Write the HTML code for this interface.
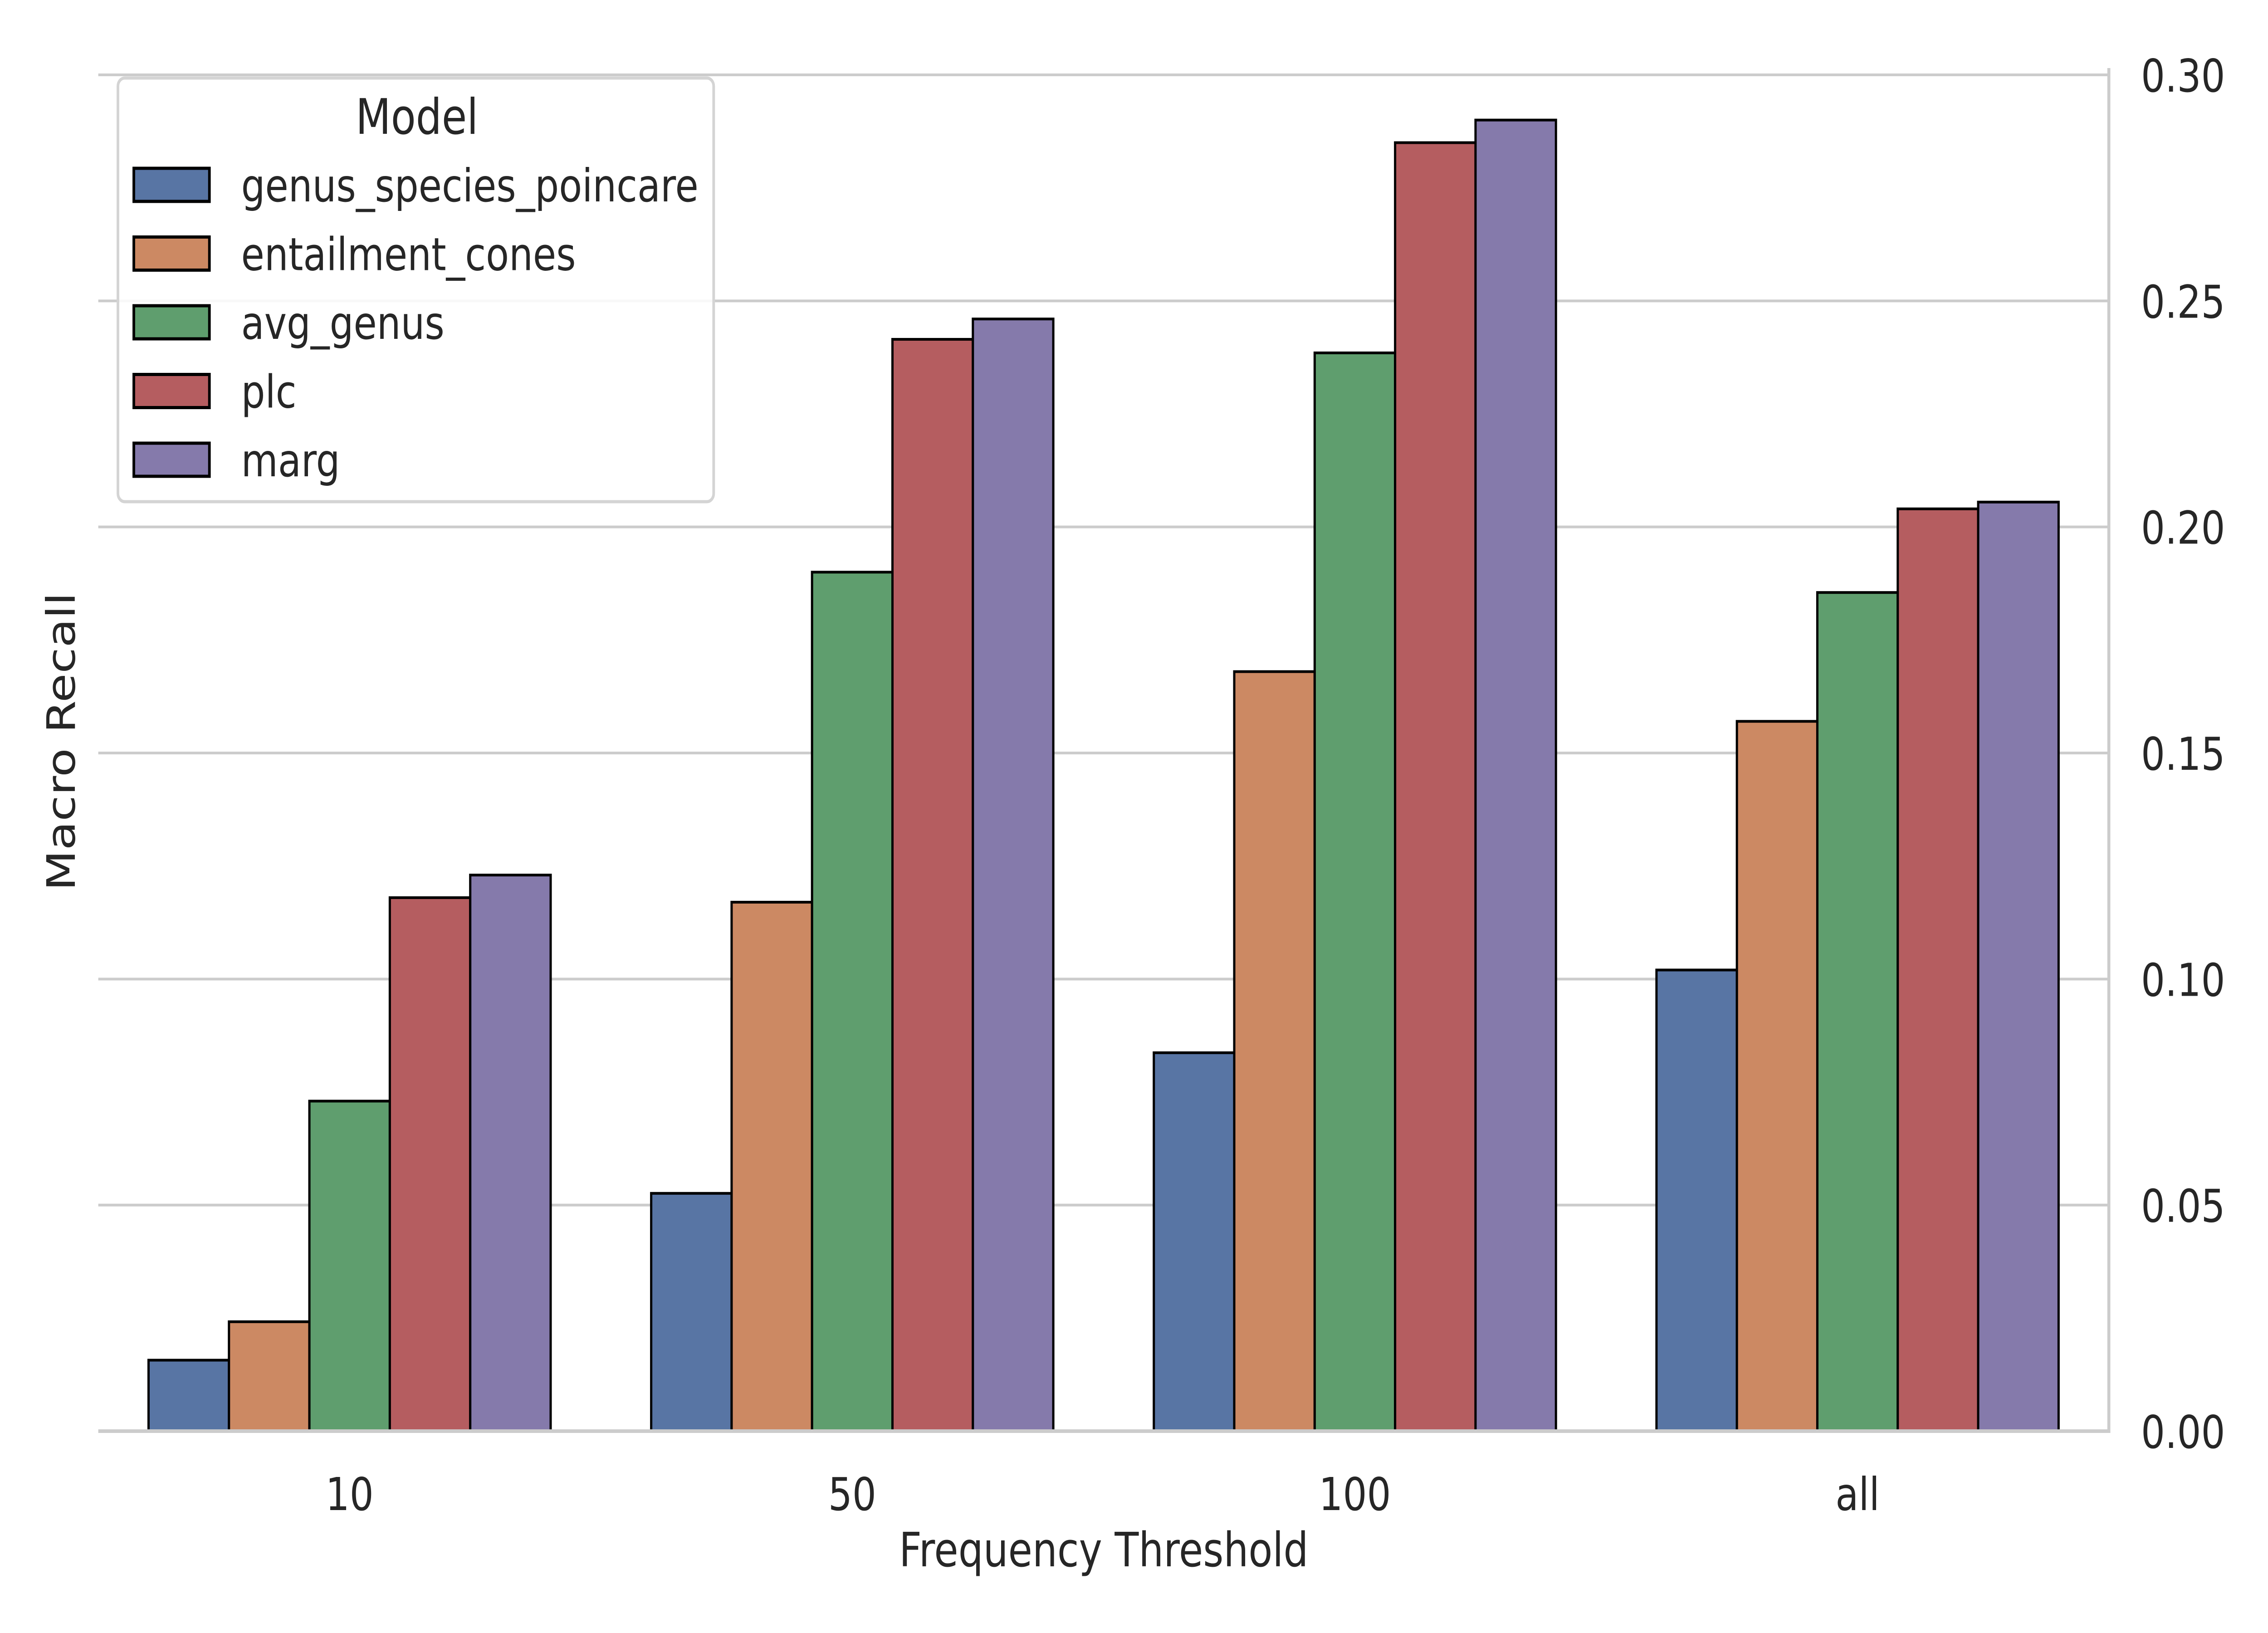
<!DOCTYPE html>
<html><head><meta charset="utf-8"><style>
html,body{margin:0;padding:0;background:#fff;width:100%;height:100%;overflow:hidden;}
#chart{display:block;width:100%;height:100%;}
svg text{font-family:"DejaVu Sans","Liberation Sans",sans-serif;fill:#262626;}
</style></head><body>
<svg id="chart" viewBox="0 0 6000 3600" preserveAspectRatio="none" xmlns="http://www.w3.org/2000/svg">
<g id="grid"></g>
<g id="bars"></g>
<line x1="260" y1="3155" x2="5583" y2="3155" stroke="#cccccc" stroke-width="8"/>
<line x1="5579" y1="150" x2="5579" y2="3159" stroke="#cccccc" stroke-width="8"/>
<g id="yticks"></g>
<g id="xticks"></g>
<text x="2920" y="3453" font-size="104" text-anchor="middle">Frequency Threshold</text>
<text transform="translate(198,1635) rotate(-90)" font-size="104" text-anchor="middle">Macro Recall</text>
<g id="legend">
<rect x="312" y="172" width="1576" height="934" rx="18" fill="#fff" fill-opacity="0.85" stroke="#d4d4d4" stroke-width="7"/>
<text x="1103" y="295" font-size="108" text-anchor="middle">Model</text>
</g>
</svg>
<script>
const categories = ["10", "50", "100", "all"];
const models = ["genus_species_poincare", "entailment_cones", "avg_genus", "plc", "marg"];
const colors = ["#5875a4", "#cc8963", "#5f9e6e", "#b55d60", "#857aab"];
const genusSpeciesPoincare = [0.0157, 0.0526, 0.0837, 0.102];
const entailmentCones = [0.0242, 0.117, 0.168, 0.157];
const avgGenus = [0.073, 0.190, 0.2385, 0.1855];
const plc = [0.118, 0.2415, 0.285, 0.204];
const marg = [0.123, 0.246, 0.290, 0.2055];
const yTicks = [0, 0.05, 0.10, 0.15, 0.20, 0.25, 0.30];
const yTickLabels = ["0.00", "0.05", "0.10", "0.15", "0.20", "0.25", "0.30"];

const series = [genusSpeciesPoincare, entailmentCones, avgGenus, plc, marg];
const NS = "http://www.w3.org/2000/svg";
const X0 = 260, X1 = 5579, Y0 = 3155, Y30 = 165;
const groupW = (X1 - X0) / categories.length;
const barW = groupW * 0.8 / models.length;
function yScale(v) { return Y0 - (v / 0.30) * (Y0 - Y30); }
function xCenter(i) { return X0 + groupW * (i + 0.5); }
function mk(tag, attrs, parent) {
  const e = document.createElementNS(NS, tag);
  for (const k in attrs) e.setAttribute(k, attrs[k]);
  parent.appendChild(e);
  return e;
}
const grid = document.getElementById("grid");
const yt = document.getElementById("yticks");
yTicks.forEach((t, i) => {
  if (t > 0) {
    const l = mk("line", {x1: X0, x2: X1, y1: yScale(t), y2: yScale(t), stroke: "#cccccc", "stroke-width": 6}, grid);
    
    
  }
  const tx = mk("text", {x: 5664, y: yScale(t) + 37, "font-size": 100}, yt);
  tx.textContent = yTickLabels[i];
  
  
});
const xt = document.getElementById("xticks");
categories.forEach((c, i) => {
  const tx = mk("text", {x: xCenter(i), y: 3329, "font-size": 100, "text-anchor": "middle"}, xt);
  tx.textContent = c;
  
  
});
const bars = document.getElementById("bars");
series.forEach((vals, s) => {
  vals.forEach((v, i) => {
    const x = xCenter(i) - groupW * 0.4 + s * barW;
    const r = mk("rect", {x: x, y: yScale(v), width: barW, height: Y0 - yScale(v), fill: colors[s], stroke: "#000", "stroke-width": 6}, bars);
    
    
  });
});
const lg = document.getElementById("legend");
models.forEach((m, s) => {
  const by = 371 + s * 151.5;
  const r = mk("rect", {x: 354, y: by, width: 200, height: 73, fill: colors[s], stroke: "#000", "stroke-width": 7}, lg);
  
  
  const t = mk("text", {x: 638, y: by + 73, "font-size": 100}, lg);
  t.textContent = m;
  
  
});
</script>
</body></html>
